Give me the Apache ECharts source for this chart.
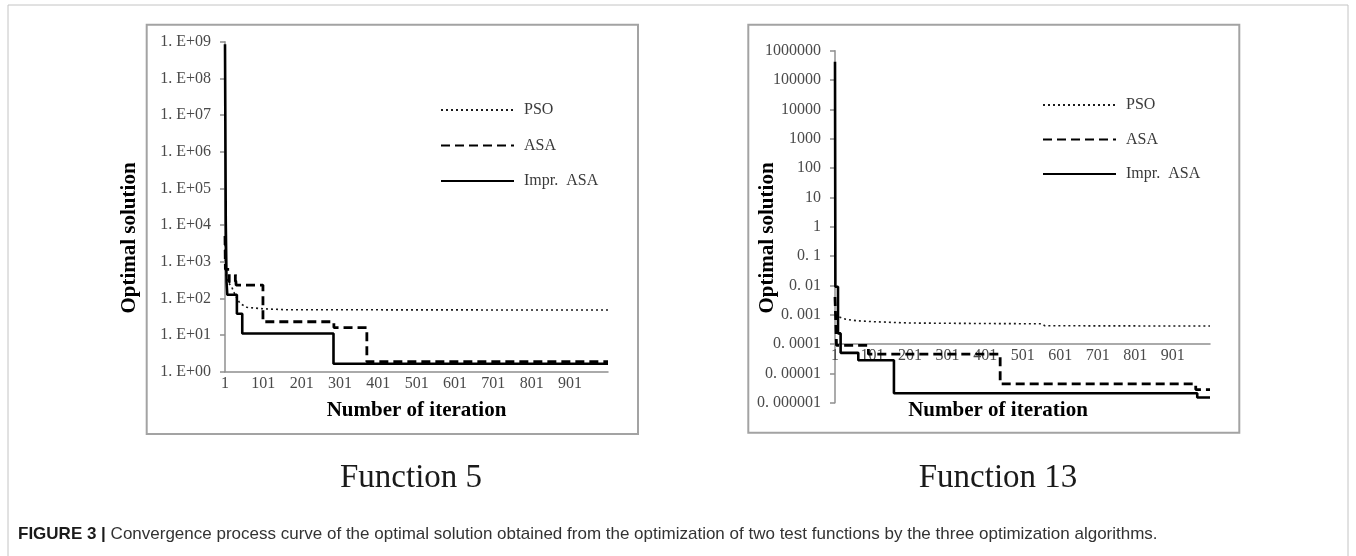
<!DOCTYPE html>
<html>
<head>
<meta charset="utf-8">
<title>FIGURE 3</title>
<script src="https://cdn.jsdelivr.net/npm/echarts@6/dist/echarts.min.js"></script>
<style>
  html, body { margin: 0; padding: 0; background: #fff; }
  #chart { width: 1356px; height: 556px; }
</style>
</head>
<body>
<div id="chart"></div>
<script>
// iteration labels on both x axes
var iterTicks = [1, 101, 201, 301, 401, 501, 601, 701, 801, 901];

// Function 5: [iteration, optimal solution]
var f5Pso  = [[1, 3000], [3, 500], [8, 280], [18, 210], [28, 120], [40, 73], [58, 57], [100, 52], [160, 49], [1000, 48]];
var f5Asa  = [[1, 5000], [2, 620], [12, 280], [28, 450], [30, 230], [100, 23], [285, 16], [371, 1.87], [1000, 1.87]];
var f5Impr = [[1, 8.5e8], [3, 1.2e4], [5, 280], [7, 125], [32, 38], [46, 11], [284, 1.65], [1000, 1.65]];
var f5TickLabels = ['1. E+00', '1. E+01', '1. E+02', '1. E+03', '1. E+04', '1. E+05', '1. E+06', '1. E+07', '1. E+08', '1. E+09'];

// Function 13
var f13Pso  = [[1, 1e-3], [10, 8.5e-4], [30, 7e-4], [60, 6.2e-4], [100, 5.8e-4], [200, 5.2e-4], [400, 5e-4], [550, 4.9e-4], [560, 4.2e-4], [1000, 4.1e-4]];
var f13Asa  = [[1, 4e-3], [5, 9e-5], [90, 4.5e-5], [441, 4.4e-6], [962, 2.8e-6], [1000, 2.8e-6]];
var f13Impr = [[1, 4.2e5], [2, 9e-3], [9, 2.3e-4], [16, 5e-5], [63, 2.8e-5], [158, 2.1e-6], [966, 1.5e-6], [1000, 1.5e-6]];
var f13TickLabels = ['0. 000001', '0. 00001', '0. 0001', '0. 001', '0. 01', '0. 1', '1', '10', '100', '1000', '10000', '100000', '1000000'];

var names = ['PSO', 'ASA', 'Impr. ASA'];

var serif = 'Liberation Serif';
var axisGray = '#8f8f8f';
var labelColor = '#4a4a4a';

var styles = [
  { color: '#1a1a1a', width: 1.6, type: [2, 3] },
  { color: '#000', width: 2.8, type: [9, 5] },
  { color: '#000', width: 2.6, type: 'solid' }
];

var myChart = echarts.init(document.getElementById('chart'));

// echarts log axis jumps 10 decades at a time on a 12-decade span,
// so the right panel plots log10 values on a plain value axis
function toExp(data) {
  return data.map(function (p) { return [p[0], Math.log10(p[1])]; });
}

function makeSeries(name, data, idx, style, step) {
  return {
    name: name,
    type: 'line',
    xAxisIndex: idx,
    yAxisIndex: idx,
    data: data,
    step: step,
    symbol: 'none',
    lineStyle: style,
    z: 3
  };
}

function xAxisOf(idx, offset) {
  return {
    type: 'value',
    gridIndex: idx,
    min: 1,
    max: 1000,
    offset: offset,
    axisLine: { show: true, onZero: false, lineStyle: { color: axisGray, width: 1.5 } },
    axisTick: { show: false },
    axisLabel: {
      customValues: iterTicks,
      margin: 4,
      fontFamily: serif,
      fontSize: 16,
      color: labelColor
    },
    splitLine: { show: false }
  };
}

var yLine = { show: true, onZero: false, lineStyle: { color: axisGray, width: 1.5 } };
var yTick = { show: true, length: 5, lineStyle: { color: axisGray, width: 1.5 } };

function legendOf(left, top, gap) {
  return {
    left: left,
    top: top,
    orient: 'vertical',
    itemWidth: 73,
    itemHeight: 16,
    itemGap: gap,
    selectedMode: false,
    data: names,
    itemStyle: { opacity: 0 },
    formatter: function (n) { return n.replace(' ', '  '); },
    textStyle: { fontFamily: serif, fontSize: 16, color: '#3a3a3a', padding: [0, 0, 0, 5] }
  };
}

function titleText(x, y, text, rot) {
  return {
    type: 'text',
    x: x,
    y: y,
    rotation: rot,
    style: {
      text: text,
      x: 0,
      y: 0,
      align: 'center',
      verticalAlign: 'middle',
      font: 'bold 21px "Liberation Serif"',
      fill: '#000'
    }
  };
}

// right panel: x axis crosses y at 0.0001 (2 decades above the bottom)
var f13GridH = 352;
var f13Cross = -f13GridH * 2 / 12;

var option = {
  animation: false,
  backgroundColor: '#fff',
  grid: [
    { left: 225, top: 41.7, width: 383, height: 330 },
    { left: 835, top: 50.7, width: 375, height: f13GridH }
  ],
  xAxis: [xAxisOf(0, 0), xAxisOf(1, f13Cross)],
  yAxis: [
    {
      type: 'log',
      logBase: 10,
      gridIndex: 0,
      min: 1,
      max: 1e9,
      axisLine: yLine,
      axisTick: yTick,
      axisLabel: {
        margin: 14, fontFamily: serif, fontSize: 16, color: labelColor,
        formatter: function (v) { return f5TickLabels[Math.round(Math.log10(v))] || ''; }
      },
      splitLine: { show: false }
    },
    {
      type: 'value',
      gridIndex: 1,
      min: -6,
      max: 6,
      interval: 1,
      axisLine: yLine,
      axisTick: yTick,
      axisLabel: {
        margin: 14, fontFamily: serif, fontSize: 16, color: labelColor,
        formatter: function (v) { return f13TickLabels[Math.round(v) + 6] || ''; }
      },
      splitLine: { show: false }
    }
  ],
  legend: [legendOf(435, 97, 19.5), legendOf(1037, 92, 18.5)],
  series: [
    makeSeries(names[0], f5Pso, 0, styles[0], false),
    makeSeries(names[1], f5Asa, 0, styles[1], 'end'),
    makeSeries(names[2], f5Impr, 0, styles[2], 'end'),
    makeSeries(names[0], toExp(f13Pso), 1, styles[0], false),
    makeSeries(names[1], toExp(f13Asa), 1, styles[1], 'end'),
    makeSeries(names[2], toExp(f13Impr), 1, styles[2], 'end')
  ],
  graphic: [
    // figure frame
    { type: 'rect', shape: { x: 8, y: 5, width: 1340, height: 570 }, style: { fill: 'none', stroke: '#c4c4c4', lineWidth: 1 } },
    // panel boxes
    { type: 'rect', shape: { x: 146.7, y: 24.7, width: 491.3, height: 409.3 }, style: { fill: 'none', stroke: '#a3a3a3', lineWidth: 2 } },
    { type: 'rect', shape: { x: 748.3, y: 24.7, width: 491, height: 408 }, style: { fill: 'none', stroke: '#a3a3a3', lineWidth: 2 } },
    titleText(130, 238, 'Optimal solution', Math.PI / 2),
    titleText(416.5, 411, 'Number of iteration', 0),
    titleText(768, 238, 'Optimal solution', Math.PI / 2),
    titleText(998, 410.7, 'Number of iteration', 0),
    { type: 'text', x: 411, y: 478, style: { text: 'Function 5', align: 'center', verticalAlign: 'middle', font: '33px "Liberation Serif"', fill: '#1a1a1a' } },
    { type: 'text', x: 998, y: 478, style: { text: 'Function 13', align: 'center', verticalAlign: 'middle', font: '33px "Liberation Serif"', fill: '#1a1a1a' } },
    {
      type: 'text', x: 18, y: 534,
      style: {
        text: '{b|FIGURE 3 |} Convergence process curve of the optimal solution obtained from the optimization of two test functions by the three optimization algorithms.',
        align: 'left',
        verticalAlign: 'middle',
        font: '17px "Liberation Sans"',
        fill: '#333',
        rich: { b: { font: 'bold 17px "Liberation Sans"', fill: '#1a1a1a' } }
      }
    }
  ]
};

option && myChart.setOption(option);
</script>
</body>
</html>
